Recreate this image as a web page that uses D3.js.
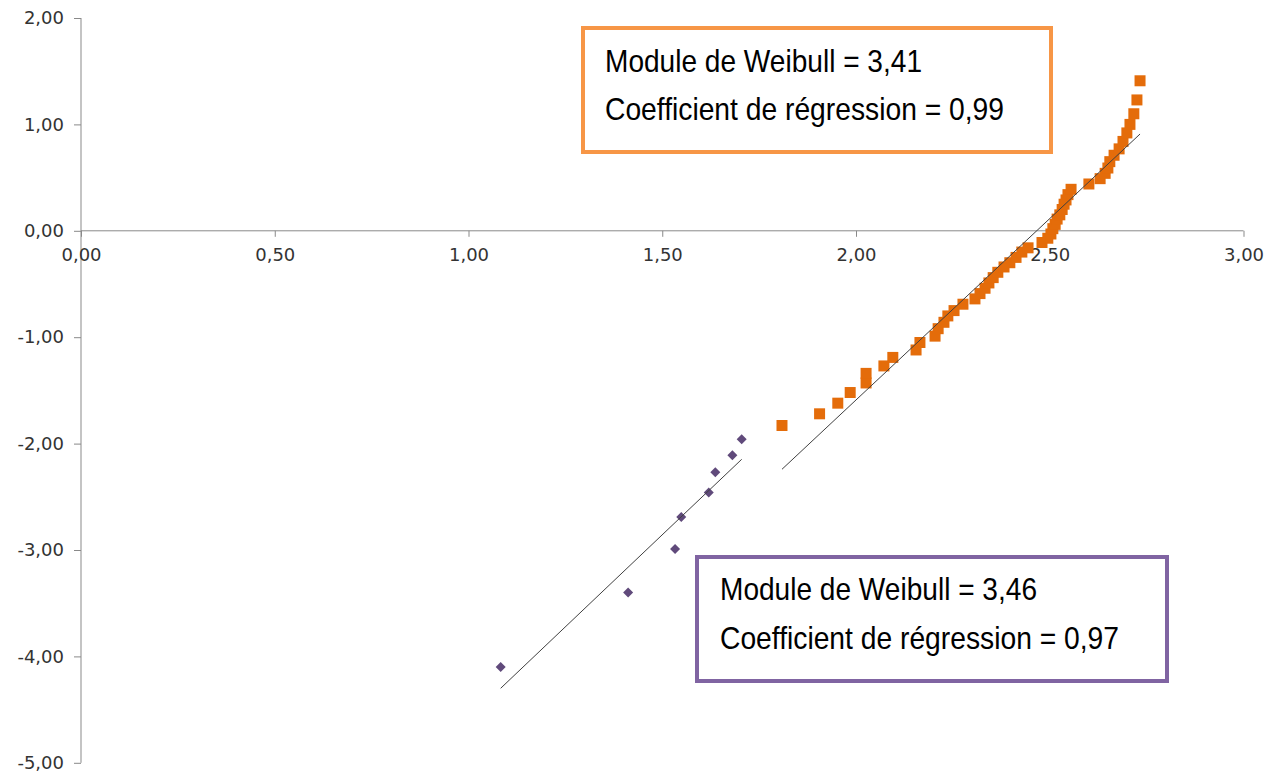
<!DOCTYPE html>
<html>
<head>
<meta charset="utf-8">
<script src="https://cdn.jsdelivr.net/npm/d3@7"></script>
<style>
  body { margin: 0; background: #fff; }
  .tick text { font-family: "DejaVu Sans", sans-serif; font-size: 18px; fill: #333; }
  .boxtext { font-family: "Liberation Sans", Arial, sans-serif; font-size: 32px; fill: #000; }
</style>
</head>
<body>
<div id="chart"></div>
<script>
// ln(x) values of the first 8 ranked samples (purple) and of the rest (orange)
var purple_x = [1.083, 1.412, 1.533, 1.549, 1.620, 1.637, 1.681, 1.705];
var purple_y = [-4.10, -3.40, -2.99, -2.69, -2.46, -2.27, -2.11, -1.96];

var orange_x = [1.809, 1.906, 1.953, 1.985, 2.026, 2.026, 2.072, 2.095, 2.155, 2.165,
                2.204, 2.212, 2.227, 2.237, 2.253, 2.276, 2.307, 2.320, 2.333, 2.343,
                2.354, 2.366, 2.382, 2.397, 2.413, 2.428, 2.444, 2.480, 2.495, 2.503,
                2.508, 2.514, 2.519, 2.526, 2.532, 2.537, 2.542, 2.547, 2.555, 2.601,
                2.630, 2.643, 2.650, 2.655, 2.666, 2.679, 2.689, 2.699, 2.707, 2.717,
                2.725, 2.733];
var orange_y = [-1.83, -1.72, -1.62, -1.52, -1.43, -1.34, -1.27, -1.19, -1.12, -1.05,
                -0.99, -0.92, -0.86, -0.80, -0.75, -0.69, -0.64, -0.59, -0.54, -0.49,
                -0.44, -0.39, -0.34, -0.30, -0.25, -0.20, -0.16, -0.11, -0.07, -0.03,
                0.02, 0.06, 0.11, 0.15, 0.20, 0.25, 0.29, 0.34, 0.39, 0.44,
                0.49, 0.54, 0.59, 0.65, 0.71, 0.77, 0.84, 0.92, 1.00, 1.10,
                1.23, 1.41];

// linear trend lines (slope = Weibull modulus)
var trend_slope = [3.41, 3.46];      // orange, purple
var trend_intercept = [-8.41, -8.047];

var x_ticks = [0, 0.5, 1, 1.5, 2, 2.5, 3];
var y_ticks = [2, 1, 0, -1, -2, -3, -4, -5];

var box_lines = [
    ["Module de Weibull = 3,41", "Coefficient de régression = 0,99"],
    ["Module de Weibull = 3,46", "Coefficient de régression = 0,97"]
];

function make_plot() {
    var W = 1270, H = 774;
    var svg = d3.select("#chart").append("svg")
        .attr("width", W)
        .attr("height", H);

    var xScale = d3.scaleLinear([0, 3], [81, 1243.5]);
    var yScale = d3.scaleLinear([-5, 2], [762.8, 18]);
    var fmt = function(d) { return d3.format(".2f")(d).replace(".", ",").replace("\u2212", "-"); };
    var axisColor = "#898989";

    // y axis
    var yAxis = svg.append("g")
        .attr("transform", "translate(" + xScale(0) + ",0)")
        .call(d3.axisLeft(yScale).tickValues(y_ticks).tickFormat(fmt).tickSize(7).tickPadding(10));
    yAxis.select(".domain").attr("stroke", axisColor).attr("d", "M0," + yScale(2) + "V" + yScale(-5));
    yAxis.selectAll(".tick line").attr("stroke", axisColor);

    // x axis crossing at y = 0
    var xAxis = svg.append("g")
        .attr("transform", "translate(0," + yScale(0) + ")")
        .call(d3.axisBottom(xScale).tickValues(x_ticks).tickFormat(fmt).tickSize(6).tickPadding(18));
    xAxis.select(".domain").attr("stroke", axisColor).attr("d", "M" + xScale(0) + ",0H" + xScale(3));
    xAxis.selectAll(".tick line").attr("stroke", axisColor);
    xAxis.selectAll(".tick text").attr("dy", "0.32em");

    var orange = orange_x.map(function(x, i) { return {x: x, y: orange_y[i]}; });
    var purple = purple_x.map(function(x, i) { return {x: x, y: purple_y[i]}; });

    svg.append("g").selectAll("path")
        .data(orange)
        .join("path")
        .attr("d", d3.symbol(d3.symbolSquare, 121))
        .attr("transform", function(d) { return "translate(" + xScale(d.x) + "," + yScale(d.y) + ")"; })
        .attr("fill", "#E46C0A");

    svg.append("g").selectAll("path")
        .data(purple)
        .join("path")
        .attr("d", d3.symbol(d3.symbolSquare, 50))
        .attr("transform", function(d) { return "translate(" + xScale(d.x) + "," + yScale(d.y) + ") rotate(45)"; })
        .attr("fill", "#604A7B");

    // trend lines across each series' x range
    var series = [orange_x, purple_x];
    series.forEach(function(xs, k) {
        var ext = d3.extent(xs);
        var pts = ext.map(function(x) { return [xScale(x), yScale(trend_slope[k] * x + trend_intercept[k])]; });
        svg.append("path")
            .attr("d", d3.line()(pts))
            .attr("stroke", "#404040")
            .attr("stroke-width", 1)
            .attr("fill", "none");
    });

    // annotation boxes
    var boxes = [
        {x: 583, y: 28, w: 468, h: 124, color: "#F79646", tx: 605, ty: [72, 120], tw: [317, 399]},
        {x: 697, y: 557, w: 470, h: 124, color: "#8064A2", tx: 720, ty: [600, 649], tw: [317, 399]}
    ];
    boxes.forEach(function(b, k) {
        svg.append("rect")
            .attr("x", b.x).attr("y", b.y)
            .attr("width", b.w).attr("height", b.h)
            .attr("fill", "#fff")
            .attr("stroke", b.color)
            .attr("stroke-width", 4);
        box_lines[k].forEach(function(t, j) {
            svg.append("text")
                .attr("class", "boxtext")
                .attr("x", b.tx)
                .attr("y", b.ty[j])
                .attr("textLength", b.tw[j])
                .attr("lengthAdjust", "spacingAndGlyphs")
                .text(t);
        });
    });
}

make_plot();
</script>
</body>
</html>
